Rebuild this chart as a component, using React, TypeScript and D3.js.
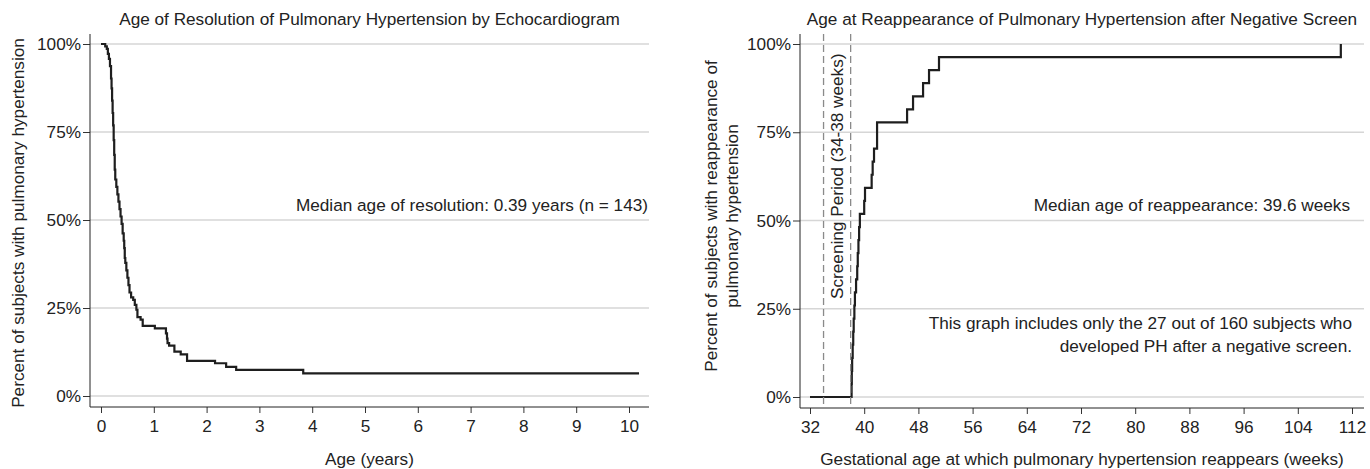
import { useEffect, useRef } from 'react';
import * as d3 from 'd3';

const W = 1370;
const H = 469;

// ---- data ----
// Left: Kaplan-Meier curve, age (years) vs % of subjects still with PH
const resTimes = [
  0, 0.08, 0.11, 0.13, 0.15, 0.17, 0.19, 0.2, 0.21, 0.22, 0.23, 0.24, 0.25, 0.26, 0.27, 0.29,
  0.31, 0.33, 0.35, 0.37, 0.39, 0.41, 0.43, 0.44, 0.45, 0.46, 0.48, 0.5, 0.52, 0.54, 0.57,
  0.61, 0.64, 0.67, 0.69, 0.75, 0.79, 1.02, 1.23, 1.25, 1.26, 1.29, 1.39, 1.51, 1.63, 2.16,
  2.37, 2.56, 3.83,
];
const resPct = [
  100, 99.3, 98.6, 97.2, 95.8, 93.7, 90.2, 87.4, 83.9, 80.4, 76.9, 72.7, 68.5, 64.3, 61.5, 59.4,
  57.3, 55.2, 53.1, 51.0, 48.9, 46.2, 44.1, 42.0, 39.2, 37.8, 35.7, 33.6, 31.5, 29.4, 28.0,
  27.3, 25.9, 24.5, 22.4, 21.7, 19.9, 19.2, 17.8, 16.3, 15.0, 14.3, 12.6, 11.8, 10.0, 9.3,
  8.3, 7.4, 6.45,
];
const resLastTime = 10.19;
const resTicks = [0, 1, 2, 3, 4, 5, 6, 7, 8, 9, 10];

// Right: event times (weeks) of the 27 subjects whose PH reappeared
const reapTimes = [
  38.14, 38.17, 38.22, 38.3, 38.38, 38.45, 38.55, 38.63, 38.8, 38.97, 39.05, 39.15, 39.25, 39.36,
  40.0, 40.12, 41.1, 41.25, 41.45, 41.9, 41.9, 46.33, 47.21, 48.69, 49.57, 51.04, 110.35,
];
const reapStart = 32;
const reapTicks = [32, 40, 48, 56, 64, 72, 80, 88, 96, 104, 112];
const screening = [34, 38];

const pctTicks = [0, 25, 50, 75, 100];

const FONT = '"Liberation Sans", Arial, Helvetica, sans-serif';
const FS = 17.2;

export default function App() {
  const svgRef = useRef<SVGSVGElement>(null);

  useEffect(() => {
    const svg = d3.select(svgRef.current);
    svg.selectAll('*').remove();

    const drawPanel = (opts: any) => {
      const { x, y, left, right, top, bottom, xTicks, points, title, xTitle, yTitle } = opts;
      const g = svg.append('g');

      // gridlines
      g.selectAll('.grid')
        .data(pctTicks)
        .enter()
        .append('line')
        .attr('x1', left)
        .attr('x2', right)
        .attr('y1', (d) => y(d))
        .attr('y2', (d) => y(d))
        .attr('stroke', '#d6d6d6')
        .attr('stroke-width', 1.3);

      // axes
      const yAxis = g
        .append('g')
        .attr('transform', `translate(${left},0)`)
        .call(d3.axisLeft(y).tickValues(pctTicks).tickFormat((d: any) => `${d}%`).tickSize(7).tickPadding(2));
      const xAxis = g
        .append('g')
        .attr('transform', `translate(0,${bottom})`)
        .call(d3.axisBottom(x).tickValues(xTicks).tickSize(6).tickPadding(7));
      [yAxis, xAxis].forEach((a) => {
        a.select('.domain').remove();
        a.selectAll('line').attr('stroke', '#333');
        a.selectAll('text').attr('fill', '#222').style('font-size', `${FS}px`).style('font-family', FONT);
      });
      g.append('line').attr('x1', left).attr('x2', left).attr('y1', top).attr('y2', bottom).attr('stroke', '#222');
      g.append('line').attr('x1', left).attr('x2', right).attr('y1', bottom).attr('y2', bottom).attr('stroke', '#222');

      // step curve
      const line = d3
        .line<[number, number]>()
        .x((d) => x(d[0]))
        .y((d) => y(d[1]))
        .curve(d3.curveStepAfter);
      g.append('path')
        .datum(points)
        .attr('d', line)
        .attr('fill', 'none')
        .attr('stroke', '#1e1e1e')
        .attr('stroke-width', 2.2);

      const txt = (tx: number, ty: number, s: string, anchor = 'middle') =>
        g
          .append('text')
          .attr('x', tx)
          .attr('y', ty)
          .attr('text-anchor', anchor)
          .attr('fill', '#222')
          .style('font-size', `${FS}px`)
          .style('font-family', FONT)
          .text(s);

      txt((left + right) / 2, 25, title);
      txt((left + right) / 2, 465, xTitle);
      yTitle.forEach((s: string, i: number) => {
        g.append('text')
          .attr('transform', `translate(${opts.yTitleX[i]},${opts.yTitleY}) rotate(-90)`)
          .attr('text-anchor', 'middle')
          .attr('fill', '#222')
          .style('font-size', `${FS}px`)
          .style('font-family', FONT)
          .text(s);
      });
      return { g, txt };
    };

    // ---- left panel ----
    const xL = d3.scaleLinear().domain([0, 10]).range([101, 629]);
    const yL = d3.scaleLinear().domain([0, 100]).range([396, 44]);
    const resPoints: [number, number][] = resTimes.map((t, i) => [t, resPct[i]]);
    resPoints.push([resLastTime, resPct[resPct.length - 1]]);
    const L = drawPanel({
      x: xL,
      y: yL,
      left: 90,
      right: 649,
      top: 34,
      bottom: 407,
      xTicks: resTicks,
      points: resPoints,
      title: 'Age of Resolution of Pulmonary Hypertension by Echocardiogram',
      xTitle: 'Age (years)',
      yTitle: ['Percent of subjects with pulmonary hypertension'],
      yTitleX: [24],
      yTitleY: 223,
    });
    L.txt(648, 211, 'Median age of resolution: 0.39 years (n = 143)', 'end');

    // ---- right panel ----
    const xR = d3.scaleLinear().domain([32, 112]).range([810, 1352]);
    const yR = d3.scaleLinear().domain([0, 100]).range([397, 44]);
    const n = reapTimes.length;
    const reapPoints: [number, number][] = [[reapStart, 0]];
    reapTimes.forEach((t, i) => reapPoints.push([t, ((i + 1) / n) * 100]));

    const R = drawPanel({
      x: xR,
      y: yR,
      left: 800,
      right: 1364,
      top: 34,
      bottom: 408,
      xTicks: reapTicks,
      points: reapPoints,
      title: 'Age at Reappearance of Pulmonary Hypertension after Negative Screen',
      xTitle: 'Gestational age at which pulmonary hypertension reappears (weeks)',
      yTitle: ['Percent of subjects with reappearance of', 'pulmonary hypertension'],
      yTitleX: [717, 738],
      yTitleY: 216,
    });

    // screening period
    R.g.selectAll('.screen')
      .data(screening)
      .enter()
      .append('line')
      .attr('x1', (d) => xR(d))
      .attr('x2', (d) => xR(d))
      .attr('y1', 34)
      .attr('y2', 408)
      .attr('stroke', '#8a8a8a')
      .attr('stroke-width', 1.3)
      .attr('stroke-dasharray', '7,4');
    R.g.append('text')
      .attr('transform', `translate(${(xR(screening[0]) + xR(screening[1])) / 2 + 6},299) rotate(-90)`)
      .attr('text-anchor', 'start')
      .attr('fill', '#222')
      .style('font-size', `${FS}px`)
      .style('font-family', FONT)
      .text('Screening Period (34-38 weeks)');

    R.txt(1350, 211, 'Median age of reappearance: 39.6 weeks', 'end');
    R.txt(1352, 329, 'This graph includes only the 27 out of 160 subjects who', 'end');
    R.txt(1352, 352, 'developed PH after a negative screen.', 'end');
  }, []);

  return (
    <svg
      ref={svgRef}
      width={W}
      height={H}
      style={{ position: 'absolute', left: 0, top: 0, background: '#fff' }}
    />
  );
}
